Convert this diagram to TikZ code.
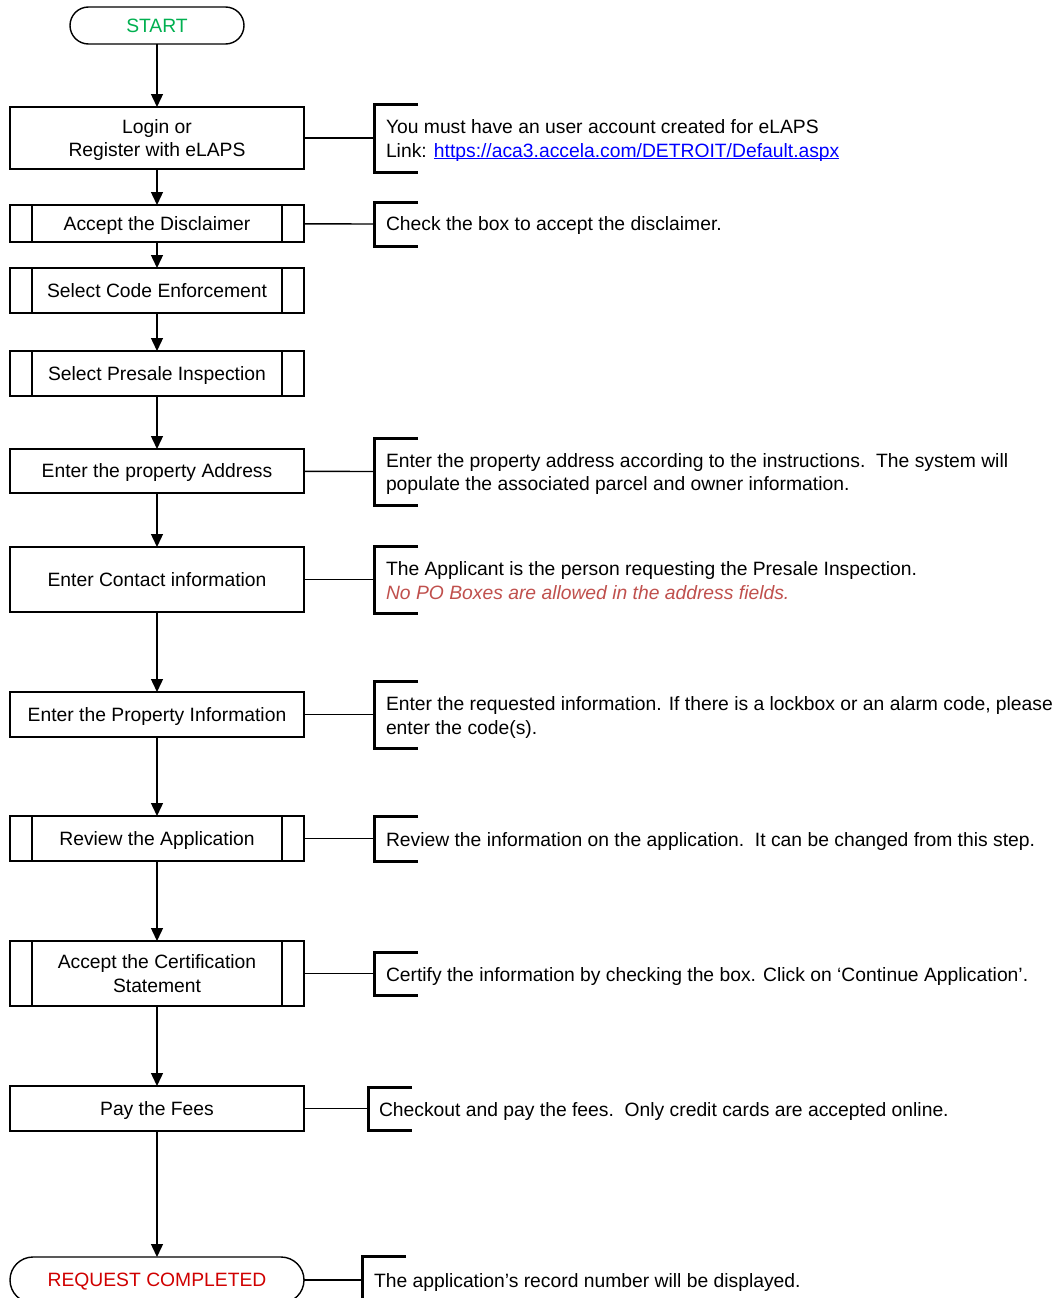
\documentclass[tikz,border=0pt]{standalone}
\usepackage{fontspec}
\setmainfont{Liberation Sans}
\usetikzlibrary{arrows.meta}
\definecolor{startgreen}{HTML}{00B050}
\definecolor{endred}{HTML}{D00000}
\definecolor{notered}{HTML}{C0504D}
\definecolor{linkblue}{HTML}{0000FF}
\newcommand\myul[1]{\setbox0\hbox{#1}\rlap{\rule[-2.2pt]{\wd0}{1.1pt}}#1}
\begin{document}
\begin{tikzpicture}[x=1pt,y=-1pt,
  every node/.style={font=\fontsize{19.3}{23.5}\selectfont, inner sep=0pt, outer sep=0pt, text depth=0pt},
  proc/.style={draw, line width=1.4pt, minimum width=294pt, align=center},
  term/.style={proc, rounded corners=#1},
  flow/.style={line width=1.4pt, -{Triangle[length=13pt,width=12pt]}},
  tie/.style={line width=1.4pt},
  brk/.style={minimum width=44pt, anchor=west},
  brkline/.style={line width=3pt},
  note/.style={anchor=west, align=left}
]
\useasboundingbox (0,0) rectangle (1059,1298);
\fill[white] (0,0) rectangle (1059,1298);

% flow nodes
\node[term=18.5pt, minimum width=174pt, minimum height=37pt, text=startgreen] (start) at (157,25.5) {START};
\node[proc, minimum height=62pt] (login) at (157,138) {Login or\\Register with eLAPS};
\node[proc, minimum height=37pt] (discl) at (157,223.5) {Accept the Disclaimer};
\node[proc, minimum height=45pt] (code) at (157,290.5) {Select Code Enforcement};
\node[proc, minimum height=45pt] (presale) at (157,373.5) {Select Presale Inspection};
\node[proc, minimum height=44pt] (addr) at (157,471) {Enter the property Address};
\node[proc, minimum height=65pt] (contact) at (157,579.5) {Enter Contact information};
\node[proc, minimum height=45pt] (prop) at (157,714.5) {Enter the Property Information};
\node[proc, minimum height=45pt] (review) at (157,838.5) {Review the Application};
\node[proc, minimum height=65pt] (cert) at (157,973.5) {Accept the Certification\\Statement};
\node[proc, minimum height=45pt] (pay) at (157,1108.5) {Pay the Fees};
\node[term=23pt, minimum height=46pt, text=endred] (done) at (157,1280) {REQUEST COMPLETED};

% predefined-process side bars
\foreach \n in {discl,code,presale,review,cert}{
  \draw[tie] ([xshift=22pt]\n.north west) -- ([xshift=22pt]\n.south west);
  \draw[tie] ([xshift=-22pt]\n.north east) -- ([xshift=-22pt]\n.south east);
}

% flow arrows
\draw[flow] (start) -- (login);
\draw[flow] (login) -- (discl);
\draw[flow] (discl) -- (code);
\draw[flow] (code) -- (presale);
\draw[flow] (presale) -- (addr);
\draw[flow] (addr) -- (contact);
\draw[flow] (contact) -- (prop);
\draw[flow] (prop) -- (review);
\draw[flow] (review) -- (cert);
\draw[flow] (cert) -- (pay);
\draw[flow] (pay) -- (done);

% annotation brackets
\node[brk, minimum height=68pt] (k1) at (374,138) {};
\node[brk, minimum height=44pt] (k2) at (374,224) {};
\node[brk, minimum height=67pt] (k3) at (374,471.5) {};
\node[brk, minimum height=67pt] (k4) at (374,579.5) {};
\node[brk, minimum height=67pt] (k5) at (374,714.5) {};
\node[brk, minimum height=45pt] (k6) at (374,838.5) {};
\node[brk, minimum height=43pt] (k7) at (374,973.5) {};
\node[brk, minimum height=43pt] (k8) at (368,1108.5) {};
\node[brk, minimum height=48pt] (k9) at (362,1280) {};
\foreach \k in {k1,k2,k3,k4,k5,k6,k7,k8,k9}{
  \draw[brkline] (\k.north east) -- (\k.north west) -- (\k.south west) -- (\k.south east);
}

\draw[tie] (login) -- (k1.west);
\draw[tie] (discl) -- (k2.west);
\draw[tie] (addr) -- (k3.west);
\draw[tie] (contact) -- (k4.west);
\draw[tie] (prop) -- (k5.west);
\draw[tie] (review) -- (k6.west);
\draw[tie] (cert) -- (k7.west);
\draw[tie] (pay) -- (k8.west);
\draw[tie] (done) -- (k9.west);

% annotation texts
\node[note] (n1) at (386,138.5) {You must have an user account created for eLAPS\\Link: \textcolor{linkblue}{\myul{https://aca3.accela.com/DETROIT/Default.aspx}}};
\node[note] (n2) at (386,224) {Check the box to accept the disclaimer.};
\node[note] (n3) at (386,472) {Enter the property address according to the instructions.\ \ The system will\\populate the associated parcel and owner information.};
\node[note] (n4) at (386,580.5) {The Applicant is the person requesting the Presale Inspection.\\\textcolor{notered}{\itshape No PO Boxes are allowed in the address fields.}};
\node[note] (n5) at (386,715.5) {Enter the requested information. If there is a lockbox or an alarm code, please\\enter the code(s).};
\node[note] (n6) at (386,839) {Review the information on the application.\ \ It can be changed from this step.};
\node[note] (n7) at (386,974) {Certify the information by checking the box. Click on ‘Continue Application’.};
\node[note] (n8) at (379,1109) {Checkout and pay the fees.\ \ Only credit cards are accepted online.};
\node[note] (n9) at (374,1280.5) {The application’s record number will be displayed.};
\end{tikzpicture}
\end{document}
